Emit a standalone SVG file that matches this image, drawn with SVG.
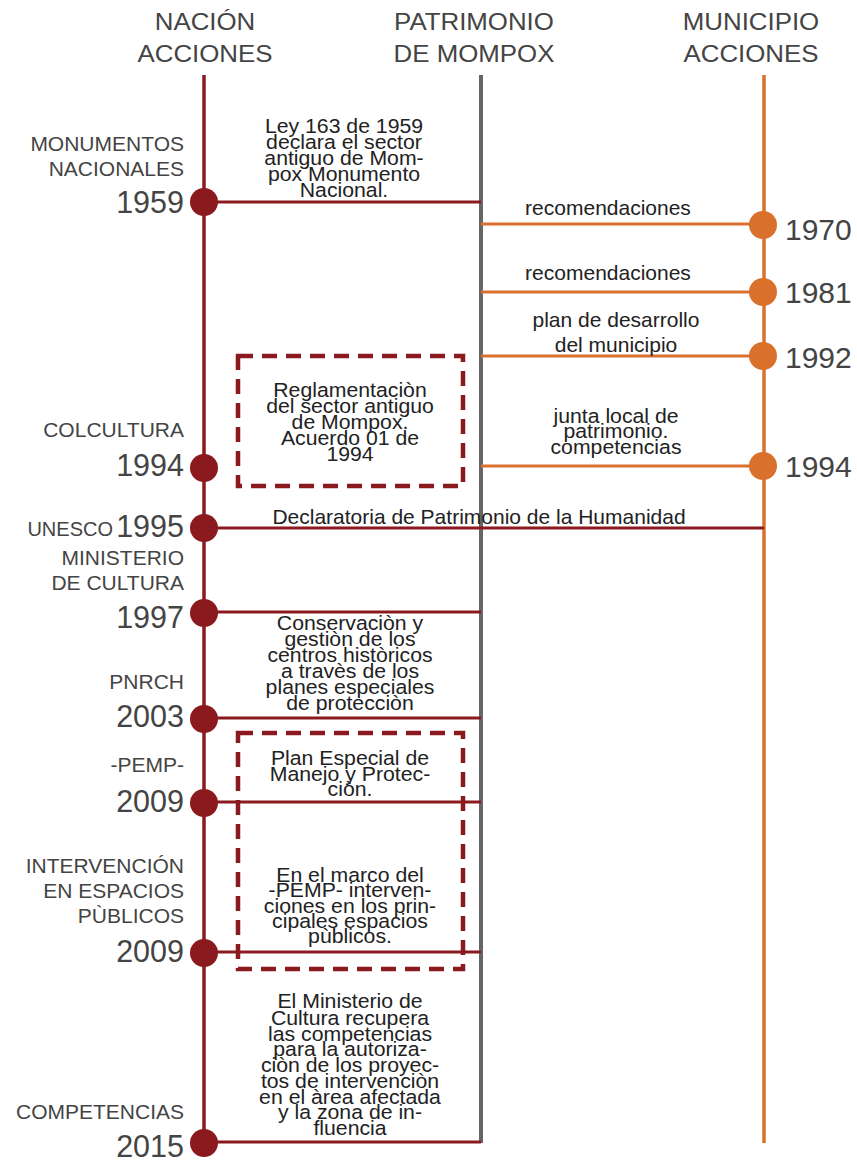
<svg xmlns="http://www.w3.org/2000/svg" width="857" height="1162" viewBox="0 0 857 1162">
<style>
.hd{font-family:"Liberation Sans",Arial,sans-serif;font-size:23.5px;fill:#444;text-anchor:middle}
.lb{font-family:"Liberation Sans",Arial,sans-serif;font-size:21px;fill:#444;text-anchor:end}
.yr{font-family:"Liberation Sans",Arial,sans-serif;font-size:30.5px;fill:#444;text-anchor:end}
.yrr{font-family:"Liberation Sans",Arial,sans-serif;font-size:30px;fill:#444;text-anchor:start}
.tx{font-family:"Liberation Sans",Arial,sans-serif;font-size:21px;fill:#222;text-anchor:middle}
.m{font-family:"Liberation Sans",Arial,sans-serif;font-size:19.5px;fill:#222;text-anchor:middle}
.red{stroke:#8b1a1e;stroke-width:3;fill:none}
.org{stroke:#d9702b;stroke-width:3;fill:none}
.dr{fill:#8b1a1e}
.do{fill:#d9702b}
.box{fill:none;stroke:#8b1a1e;stroke-width:4.5;stroke-dasharray:15 9}
</style>
<g id="headers">
<g transform="translate(205 0) scale(1.1 1)">
<text class="hd" x="0" y="30">NACIÓN</text>
<text class="hd" x="0" y="62">ACCIONES</text>
</g>
<g transform="translate(474 0) scale(1.1 1)">
<text class="hd" x="0" y="30">PATRIMONIO</text>
<text class="hd" x="0" y="62">DE MOMPOX</text>
</g>
<g transform="translate(751 0) scale(1.1 1)">
<text class="hd" x="0" y="30">MUNICIPIO</text>
<text class="hd" x="0" y="62">ACCIONES</text>
</g>
</g>
<g id="axes">
<line x1="204" y1="75" x2="204" y2="1143" stroke="#8b1a1e" stroke-width="3.5"/>
<line x1="481" y1="75" x2="481" y2="1143" stroke="#666" stroke-width="4"/>
<line x1="764" y1="75" x2="764" y2="1143" stroke="#d9702b" stroke-width="3.5"/>
</g>
<g id="connectors">
<line class="red" x1="204" y1="202" x2="481" y2="202"/>
<line class="org" x1="481" y1="224" x2="764" y2="224"/>
<line class="org" x1="481" y1="292" x2="764" y2="292"/>
<line class="org" x1="481" y1="356" x2="764" y2="356"/>
<line class="org" x1="481" y1="466" x2="764" y2="466"/>
<line class="red" x1="204" y1="528" x2="764" y2="528"/>
<line class="red" x1="204" y1="612" x2="481" y2="612"/>
<line class="red" x1="204" y1="718" x2="481" y2="718"/>
<line class="red" x1="204" y1="802" x2="481" y2="802"/>
<line class="red" x1="204" y1="952" x2="481" y2="952"/>
<line class="red" x1="204" y1="1142" x2="481" y2="1142"/>
</g>
<g id="n1959">
<circle class="dr" cx="204" cy="202" r="14"/>
<text class="lb" x="184" y="151">MONUMENTOS</text>
<text class="lb" x="184" y="176">NACIONALES</text>
<text class="yr" x="184" y="213">1959</text>
<g transform="translate(344 0) scale(1.09 1)">
<text class="m" x="0" y="133">Ley 163 de 1959</text>
<text class="m" x="0" y="149">declara el sector</text>
<text class="m" x="0" y="165">antiguo de Mom-</text>
<text class="m" x="0" y="181">pox Monumento</text>
<text class="m" x="0" y="197">Nacional.</text>
</g>
</g>
<g id="m1970">
<circle class="do" cx="763" cy="225" r="14"/>
<text class="tx" x="608" y="215">recomendaciones</text>
<text class="yrr" x="785" y="240">1970</text>
</g>
<g id="m1981">
<circle class="do" cx="763" cy="292" r="14"/>
<text class="tx" x="608" y="280">recomendaciones</text>
<text class="yrr" x="785" y="303">1981</text>
</g>
<g id="m1992">
<circle class="do" cx="763" cy="356" r="14"/>
<text class="tx" x="616" y="327">plan de desarrollo</text>
<text class="tx" x="616" y="352">del municipio</text>
<text class="yrr" x="785" y="368">1992</text>
</g>
<g id="m1994">
<circle class="do" cx="763" cy="466" r="14"/>
<g transform="translate(616 0) scale(1.09 1)">
<text class="m" x="0" y="423">junta local de</text>
<text class="m" x="0" y="438">patrimonio.</text>
<text class="m" x="0" y="454">competencias</text>
</g>
<text class="yrr" x="785" y="477">1994</text>
</g>
<g id="n1994">
<circle class="dr" cx="204" cy="468" r="14"/>
<text class="lb" x="184" y="437">COLCULTURA</text>
<text class="yr" x="184" y="476">1994</text>
<rect class="box" x="238" y="356" width="225" height="130"/>
<g transform="translate(350 0) scale(1.09 1)">
<text class="m" x="0" y="397">Reglamentaciòn</text>
<text class="m" x="0" y="413">del sector antiguo</text>
<text class="m" x="0" y="429">de Mompox.</text>
<text class="m" x="0" y="445">Acuerdo 01 de</text>
<text class="m" x="0" y="461">1994</text>
</g>
</g>
<g id="n1995">
<circle class="dr" cx="204" cy="528" r="14"/>
<text class="lb" x="113" y="536" style="font-size:20px">UNESCO</text>
<text class="yr" x="184" y="537">1995</text>
<text class="tx" x="479" y="524">Declaratoria de Patrimonio de la Humanidad</text>
</g>
<g id="n1997">
<circle class="dr" cx="204" cy="613" r="14"/>
<text class="lb" x="184" y="565">MINISTERIO</text>
<text class="lb" x="184" y="590">DE CULTURA</text>
<text class="yr" x="184" y="628">1997</text>
</g>
<g id="n2003">
<circle class="dr" cx="204" cy="719" r="14"/>
<text class="lb" x="184" y="689">PNRCH</text>
<text class="yr" x="184" y="727">2003</text>
<g transform="translate(350 0) scale(1.09 1)">
<text class="m" x="0" y="630">Conservaciòn y</text>
<text class="m" x="0" y="646">gestiòn de los</text>
<text class="m" x="0" y="662">centros històricos</text>
<text class="m" x="0" y="678">a travès de los</text>
<text class="m" x="0" y="694">planes especiales</text>
<text class="m" x="0" y="710">de protecciòn</text>
</g>
</g>
<g id="n2009a">
<rect class="box" x="238" y="733" width="225" height="236"/>
<circle class="dr" cx="204" cy="803" r="14"/>
<text class="lb" x="184" y="772">-PEMP-</text>
<text class="yr" x="184" y="812">2009</text>
<g transform="translate(350 0) scale(1.09 1)">
<text class="m" x="0" y="765">Plan Especial de</text>
<text class="m" x="0" y="781">Manejo y Protec-</text>
<text class="m" x="0" y="796">ciòn.</text>
</g>
</g>
<g id="n2009b">
<circle class="dr" cx="204" cy="953" r="14"/>
<text class="lb" x="184" y="873">INTERVENCIÓN</text>
<text class="lb" x="184" y="898">EN ESPACIOS</text>
<text class="lb" x="184" y="923">PÙBLICOS</text>
<text class="yr" x="184" y="962">2009</text>
<g transform="translate(350 0) scale(1.09 1)">
<text class="m" x="0" y="882">En el marco del</text>
<text class="m" x="0" y="897">-PEMP- interven-</text>
<text class="m" x="0" y="913">ciones en los prin-</text>
<text class="m" x="0" y="928">cipales espacios</text>
<text class="m" x="0" y="943">pùblicos.</text>
</g>
</g>
<g id="n2015">
<circle class="dr" cx="204" cy="1143" r="14"/>
<text class="lb" x="184" y="1119">COMPETENCIAS</text>
<text class="yr" x="184" y="1157">2015</text>
<g transform="translate(350 0) scale(1.09 1)">
<text class="m" x="0" y="1008">El Ministerio de</text>
<text class="m" x="0" y="1025">Cultura recupera</text>
<text class="m" x="0" y="1041">las competencias</text>
<text class="m" x="0" y="1056">para la autoriza-</text>
<text class="m" x="0" y="1072">ciòn de los proyec-</text>
<text class="m" x="0" y="1088">tos de intervenciòn</text>
<text class="m" x="0" y="1104">en el àrea afectada</text>
<text class="m" x="0" y="1119">y la zona de in-</text>
<text class="m" x="0" y="1135">fluencia</text>
</g>
</g>
</svg>
